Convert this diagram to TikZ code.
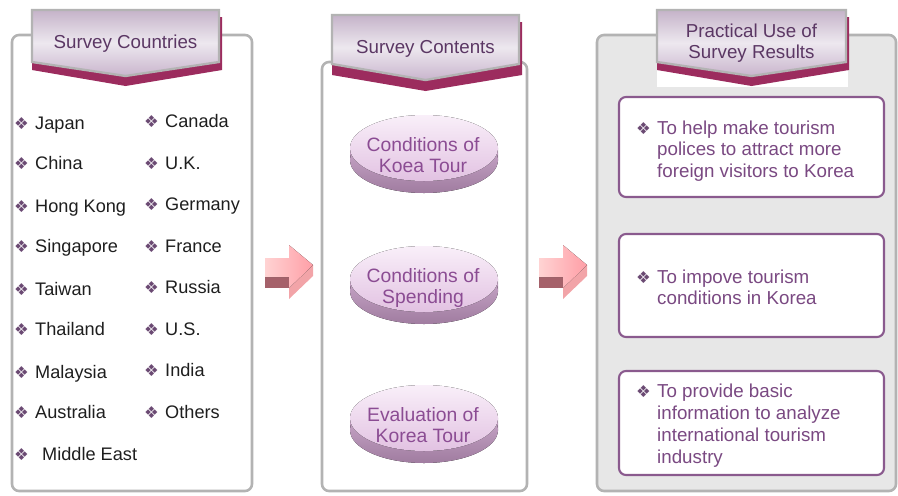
\documentclass[tikz,border=0pt]{standalone}
\usepackage{fontspec}
\setmainfont{Liberation Sans}
\newfontfamily\symf{DejaVu Sans}
\definecolor{panelgray}{HTML}{B3B3B3}
\definecolor{rightfill}{HTML}{E7E7E7}
\definecolor{magc}{HTML}{9C2C5E}
\definecolor{headtxt}{HTML}{5B3764}
\definecolor{hdrtop}{HTML}{C5B3C9}
\definecolor{hdrmid}{HTML}{EDE8EF}
\definecolor{hdrbot}{HTML}{C9B5CD}
\definecolor{boxborder}{HTML}{8A5A8E}
\definecolor{boxtxt}{HTML}{7A4982}
\definecolor{elltxt}{HTML}{8B4C93}
\definecolor{bulletc}{HTML}{6B4A73}
\definecolor{listc}{HTML}{1E1E1E}
\definecolor{elltop}{HTML}{F9EFF9}
\definecolor{ellbot}{HTML}{E2C2E2}
\definecolor{sidetop}{HTML}{D8B8D8}
\definecolor{sidebot}{HTML}{A07CA0}
\definecolor{arrowL}{HTML}{FFD3D3}
\definecolor{arrowR}{HTML}{FF9EA6}
\definecolor{arrowdark}{HTML}{A5616A}
\definecolor{arrowside}{HTML}{F2A4A8}
\begin{document}
\begin{tikzpicture}[x=0.03cm,y=-0.03cm,
  panel/.style={draw=panelgray, line width=2.2pt, rounded corners=6pt},
  hdr/.style={draw=panelgray, line width=2pt, top color=hdrtop, bottom color=hdrbot, middle color=hdrmid},
  hdrtext/.style={anchor=base, inner sep=0pt, text=headtxt, font=\fontsize{16}{18}\selectfont},
  lst/.style={anchor=base west, inner sep=0pt, text=listc, font=\fontsize{15.5}{18}\selectfont},
  blt/.style={anchor=base west, inner sep=0pt, text=bulletc, font=\symf\fontsize{14}{14}\selectfont},
  rbox/.style={draw=boxborder, fill=white, line width=1.8pt, rounded corners=6pt},
  btxt/.style={anchor=base west, inner sep=0pt, text=boxtxt, font=\fontsize{16}{18}\selectfont},
  etxt/.style={anchor=base, inner sep=0pt, text=elltxt, font=\fontsize{16.5}{18}\selectfont},
  eface/.style={top color=elltop, bottom color=ellbot},
  eside/.style={top color=sidetop, bottom color=sidebot}
]
\useasboundingbox (0,0) rectangle (898,495);

% ---------- panels ----------
\draw[panel] (12,35) rectangle (252,491);
\draw[panel] (322,62) rectangle (527,491);
\draw[panel, fill=rightfill] (597,35) rectangle (896,491);

% ---------- headers ----------
% left
\fill[magc] (32,40) -- (219,40) -- (219,17) -- (222,17) -- (222,70) -- (125.5,86) -- (32,70) -- cycle;
\path[hdr] (32,10) -- (219,10) -- (219,62) -- (125.5,76) -- (32,62) -- cycle;
\node[hdrtext] (h1) at (125.5,48) {Survey Countries};
% middle
\fill[magc] (332,45) -- (519,45) -- (519,22) -- (522,22) -- (522,75) -- (425.5,91) -- (332,75) -- cycle;
\path[hdr] (332,15) -- (519,15) -- (519,64) -- (425.5,80) -- (332,64) -- cycle;
\node[hdrtext] (h2) at (425.5,53) {Survey Contents};
% right
\fill[white] (657,48) rectangle (848,87);
\fill[magc] (657,40) -- (846,40) -- (846,17) -- (849,17) -- (849,70) -- (751.5,86) -- (657,70) -- cycle;
\path[hdr] (657,10) -- (846,10) -- (846,62) -- (751.5,76) -- (657,62) -- cycle;
\node[hdrtext] (h3a) at (751.5,37) {Practical Use of};
\node[hdrtext] (h3b) at (751.5,58) {Survey Results};

% ---------- left list ----------
\foreach \t/\y [count=\i] in {Japan/129, China/169, Hong Kong/212, Singapore/252, Taiwan/295, Thailand/335, Malaysia/378, Australia/418}{
  \node[blt] (ba\i) at (14,\y) {❖};
  \node[lst] (la\i) at (35,\y) {\t};
}
\node[blt] (ba9) at (14,460) {❖};
\node[lst] (la9) at (42,460) {Middle East};
\foreach \t/\y [count=\i] in {Canada/127, U.K./169, Germany/210, France/252, Russia/293, U.S./335, India/376, Others/418}{
  \node[blt] (bb\i) at (144,\y) {❖};
  \node[lst] (lb\i) at (165,\y) {\t};
}

% ---------- ellipses ----------
\foreach \cy/\la/\lb [count=\i] in {148/Conditions of/Koea Tour, 279/Conditions of/Spending, 418/Evaluation of/Korea Tour}{
  \fill[eside] (350,\cy) rectangle (498,\cy+12);
  \fill[eside] (424,\cy+12) ellipse [x radius=74, y radius=33];
  \fill[eface] (424,\cy) ellipse [x radius=74, y radius=33];
  \node[etxt] (ea\i) at (423,\cy+3) {\la};
  \node[etxt] (eb\i) at (423,\cy+24) {\lb};
}

% ---------- arrows ----------
\foreach \dx [count=\i] in {0,274}{
  \begin{scope}[shift={(\dx,0)}]
    \fill[arrowside] (313,265) -- (289,288) -- (289,299) -- (313,276) -- cycle;
    \fill[arrowdark] (265,277) rectangle (289,288);
    \fill[left color=arrowL, right color=arrowR] (265,258) -- (289,258) -- (289,245) -- (313,265) -- (289,288) -- (289,277) -- (265,277) -- cycle;
  \end{scope}
}

% ---------- right boxes ----------
\draw[rbox] (619,97) rectangle (884,197);
\node[blt] (c1) at (636,134) {❖};
\node[btxt] (r1a) at (657,134) {To help make tourism};
\node[btxt] (r1b) at (657,155.5) {polices to attract more};
\node[btxt] (r1c) at (657,177) {foreign visitors to Korea};

\draw[rbox] (619,234) rectangle (884,337);
\node[blt] (c2) at (636,283) {❖};
\node[btxt] (r2a) at (657,283) {To impove tourism};
\node[btxt] (r2b) at (657,304) {conditions in Korea};

\draw[rbox] (619,371) rectangle (884,475);
\node[blt] (c3) at (636,397) {❖};
\node[btxt] (r3a) at (657,397) {To provide basic};
\node[btxt] (r3b) at (657,419) {information to analyze};
\node[btxt] (r3c) at (657,441) {international tourism};
\node[btxt] (r3d) at (657,463) {industry};
\end{tikzpicture}
\end{document}
